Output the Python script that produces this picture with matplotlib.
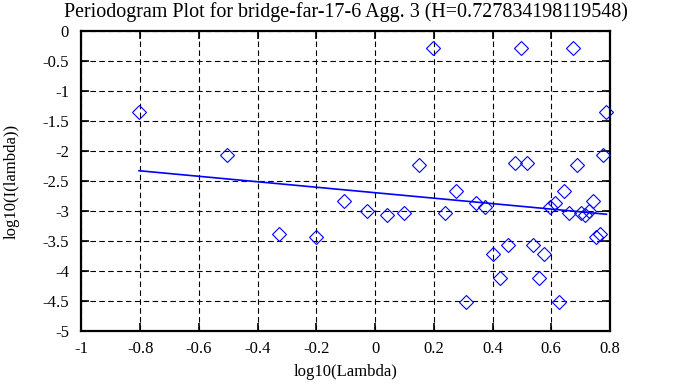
import matplotlib.pyplot as plt

# log10 of frequency and log10 of periodogram
log_lambda = [-0.804, -0.503, -0.327, -0.202, -0.105, -0.026, 0.041, 0.099,
              0.150, 0.196, 0.238, 0.276, 0.311, 0.343, 0.373, 0.401, 0.427,
              0.452, 0.475, 0.497, 0.518, 0.538, 0.558, 0.576, 0.594, 0.612,
              0.628, 0.644, 0.659, 0.673, 0.688, 0.702, 0.715, 0.729, 0.741,
              0.754, 0.766, 0.777, 0.788]
log_I = [-1.345, -2.07, -3.38, -3.43, -2.84, -3.0, -3.06, -3.03, -2.23, -0.283,
         -3.03, -2.66, -4.51, -2.87, -2.94, -3.72, -4.11, -3.57, -2.205, -0.283,
         -2.205, -3.57, -4.11, -3.72, -2.94, -2.87, -4.51, -2.66, -3.03, -0.283,
         -2.23, -3.03, -3.06, -3.0, -2.84, -3.43, -3.38, -2.07, -1.345]

H = 0.727834198119548
slope = 1 - 2 * H
intercept = -2.695
fit_x = [log_lambda[0], log_lambda[-1]]
fit_y = [slope * x + intercept for x in fit_x]

plt.rcParams["font.family"] = ["Liberation Serif", "DejaVu Serif"]
plt.rcParams["font.size"] = 12

fig = plt.figure(figsize=(6.78, 3.87), dpi=100)
ax = fig.add_axes([0.1202, 0.1447, 0.7795, 0.7752])

ax.plot(log_lambda, log_I, linestyle="none", marker="D", markersize=7,
        markerfacecolor="none", markeredgecolor="blue", markeredgewidth=0.8,
        clip_on=False, zorder=3)
ax.plot(fit_x, fit_y, color="blue", linewidth=1.2, zorder=2)

ax.set_xlim(-1, 0.8)
ax.set_ylim(-5, 0)
ax.set_xticks([-1, -0.8, -0.6, -0.4, -0.2, 0, 0.2, 0.4, 0.6, 0.8])
ax.set_xticklabels(["-1", "-0.8", "-0.6", "-0.4", "-0.2", "0", "0.2", "0.4", "0.6", "0.8"])
ax.set_yticks([-5, -4.5, -4, -3.5, -3, -2.5, -2, -1.5, -1, -0.5, 0])
ax.set_yticklabels(["-5", "-4.5", "-4", "-3.5", "-3", "-2.5", "-2", "-1.5", "-1", "-0.5", "0"])

ax.grid(True, color="black", linestyle=(0, (5, 3)), linewidth=0.8)
ax.tick_params(direction="in", length=6, width=1.2, top=True, right=True)
ax.tick_params(axis="x", pad=7)
ax.tick_params(axis="y", pad=9)
for s in ax.spines.values():
    s.set_linewidth(1.6)

ax.set_title("Periodogram Plot for bridge-far-17-6 Agg. 3 (H=0.727834198119548)", pad=10)
ax.set_xlabel("log10(Lambda)", labelpad=5)
ax.set_ylabel("log10(I(lambda))", labelpad=16)

fig.savefig("out.png", dpi=100)
